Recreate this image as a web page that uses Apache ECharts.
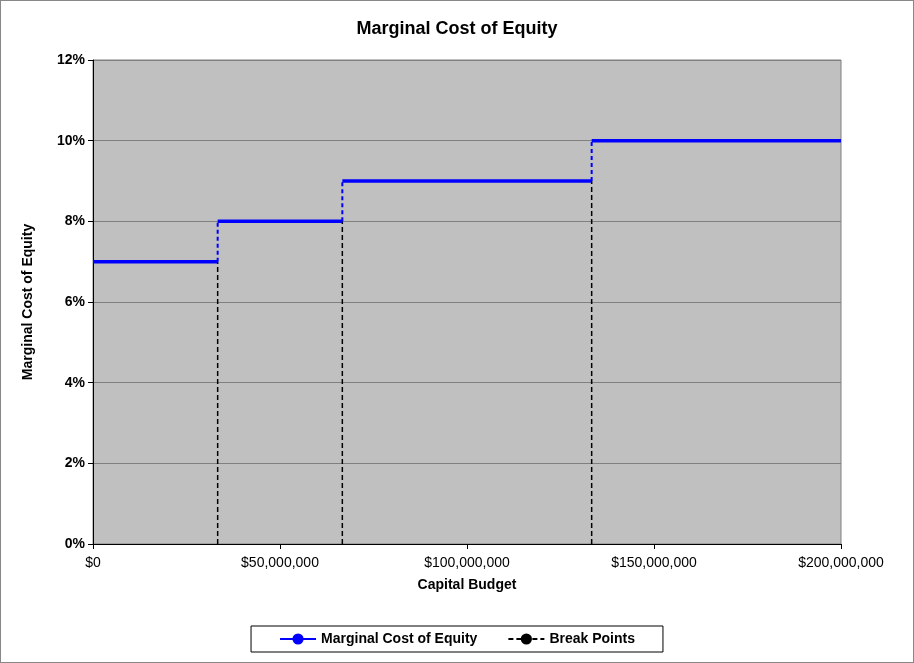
<!DOCTYPE html>
<html><head><meta charset="utf-8">
<script src="https://cdn.jsdelivr.net/npm/echarts@6/dist/echarts.min.js"></script>
<style>
html,body{margin:0;padding:0;background:#fff}
#c{width:912px;height:661px;border:1px solid #888}
</style></head>
<body><div id="c"></div>
<script>
// break points of the capital budget and cost of equity for each step
var breaks = [0, 33333333, 66666667, 133333333, 200000000];
var rates = [7, 8, 9, 10];

var steps = [], risers = [], bps = [];
for (var i = 0; i < rates.length; i++) {
    steps.push([breaks[i], rates[i]], [breaks[i + 1], rates[i]], '-');
    if (i > 0) {
        risers.push([breaks[i], rates[i - 1]], [breaks[i], rates[i]], '-');
        bps.push([breaks[i], 0], [breaks[i], rates[i - 1]], '-');
    }
}

var font = 'Liberation Sans';
var myChart = echarts.init(document.getElementById('c'));
myChart.setOption({
    animation: false,
    title: {
        text: 'Marginal Cost of Equity', left: 'center', top: 14,
        textStyle: {fontFamily: font, fontSize: 18, fontWeight: 'bold', color: '#000'}
    },
    legend: {
        bottom: 10, left: 'center',
        data: ['Marginal Cost of Equity', 'Break Points'],
        backgroundColor: '#fff', borderColor: '#000', borderWidth: 1,
        padding: [6, 28], itemGap: 30, itemWidth: 36,
        textStyle: {fontFamily: font, fontSize: 14, fontWeight: 'bold', color: '#000'}
    },
    grid: {
        left: 92, right: 72, top: 59, bottom: 118,
        show: true, backgroundColor: '#c0c0c0', borderColor: '#808080', borderWidth: 1
    },
    xAxis: {
        type: 'value', min: 0, max: 200000000, interval: 50000000,
        name: 'Capital Budget', nameLocation: 'middle', nameGap: 34,
        nameTextStyle: {fontFamily: font, fontSize: 14, fontWeight: 'bold', color: '#000'},
        axisLine: {lineStyle: {color: '#000'}},
        axisTick: {show: true, length: 5},
        splitLine: {show: false},
        axisLabel: {
            fontFamily: font, fontSize: 14, color: '#000', margin: 12,
            formatter: function (v) { return '$' + v.toLocaleString('en-US'); }
        }
    },
    yAxis: {
        type: 'value', min: 0, max: 12, interval: 2,
        name: 'Marginal Cost of Equity', nameLocation: 'middle', nameGap: 58,
        nameTextStyle: {fontFamily: font, fontSize: 14, fontWeight: 'bold', color: '#000'},
        axisLine: {show: true, lineStyle: {color: '#000'}},
        axisTick: {show: true, length: 5},
        splitLine: {lineStyle: {color: '#808080'}},
        axisLabel: {fontFamily: font, fontSize: 14, fontWeight: 'bold', color: '#000', formatter: '{value}%'}
    },
    series: [{
        name: 'Marginal Cost of Equity', type: 'line', data: steps, symbol: 'none',
        lineStyle: {color: '#0000ff', width: 3.5}, itemStyle: {color: '#0000ff'}, z: 4
    }, {
        name: 'Riser', type: 'line', data: risers, symbol: 'none',
        lineStyle: {color: '#0000ff', width: 2, type: [4, 3]}, z: 3
    }, {
        name: 'Break Points', type: 'line', data: bps, symbol: 'none',
        lineStyle: {color: '#000', width: 1.5, type: [5, 3]}, itemStyle: {color: '#000'}, z: 2
    }]
});
</script></body></html>
